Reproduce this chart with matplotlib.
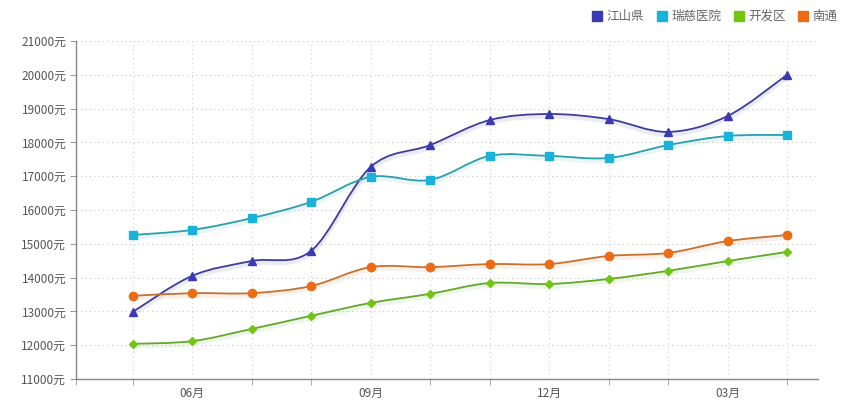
import numpy as np
import matplotlib.pyplot as plt
from matplotlib.path import Path
from matplotlib.patches import PathPatch

plt.rcParams['font.family'] = ['Noto Sans CJK SC', 'DejaVu Sans']

months = ['05月', '06月', '07月', '08月', '09月', '10月', '11月', '12月', '01月', '02月', '03月', '04月']
label_idx = [1, 4, 7, 10]

jiangshan = [12980, 14050, 14490, 14790, 17270, 17920, 18660, 18840, 18690, 18310, 18780, 20000]
ruici = [15260, 15410, 15760, 16240, 16980, 16890, 17600, 17600, 17540, 17920, 18190, 18220]
kaifa = [12040, 12120, 12480, 12870, 13250, 13520, 13840, 13810, 13960, 14200, 14490, 14760]
nantong = [13460, 13540, 13540, 13750, 14310, 14310, 14400, 14400, 14640, 14730, 15080, 15260]

series = [
    ('江山県', jiangshan, '#3a3ab4', '#3d3d9c', '^'),
    ('瑞慈医院', ruici, '#19b2d8', '#2a9fae', 's'),
    ('开发区', kaifa, '#72c612', '#62a82a', 'D'),
    ('南通', nantong, '#ec6b14', '#c8702f', 'o'),
]


def smooth_path(x, y, k=1 / 6):
    # bezier segments through the points (catmull-rom style)
    x = np.asarray(x, float)
    y = np.asarray(y, float)
    n = len(x)
    verts = [(x[0], y[0])]
    codes = [Path.MOVETO]
    for i in range(n - 1):
        p0 = i - 1 if i > 0 else i
        p3 = i + 2 if i + 2 < n else i + 1
        c1 = (x[i] + (x[i + 1] - x[p0]) * k, y[i] + (y[i + 1] - y[p0]) * k)
        c2 = (x[i + 1] - (x[p3] - x[i]) * k, y[i + 1] - (y[p3] - y[i]) * k)
        verts += [c1, c2, (x[i + 1], y[i + 1])]
        codes += [Path.CURVE4] * 3
    return Path(verts, codes)


fig = plt.figure(figsize=(8.61, 4.09), dpi=100)
ax = fig.add_axes([76 / 861, 1 - 379 / 409, (818 - 76) / 861, (379 - 41) / 409])

xs = np.arange(len(months))
for name, vals, mc, lc, mk in series:
    shadow = np.array(vals) - 70
    ax.add_patch(PathPatch(smooth_path(xs, shadow), fill=False, edgecolor=lc, alpha=0.1, lw=3.5, zorder=2))
    ax.add_patch(PathPatch(smooth_path(xs, vals), fill=False, edgecolor=lc, lw=1.3, zorder=3))
    ms = 6 if mk in ('s', 'o') else 5.5
    if mk == 'D':
        ms = 4.5
    ax.plot(xs, vals, linestyle='none', marker=mk, color=mc, markersize=ms, zorder=4)

ax.set_xlim(-0.95, 11.52)
ax.set_ylim(11000, 21000)
ax.set_yticks(np.arange(11000, 21001, 1000))
ax.set_yticklabels([f'{v}元' for v in range(11000, 21001, 1000)])
ax.set_xticks(label_idx)
ax.set_xticklabels([months[i] for i in label_idx])
ax.set_xticks([-0.95] + [i for i in xs if i not in label_idx], minor=True)
ax.tick_params(axis='x', which='major', length=0, pad=6, labelsize=8.5, labelcolor='#555555')
ax.tick_params(axis='x', which='minor', length=4, color='#999999')
ax.tick_params(axis='y', length=4, color='#999999', labelsize=8.5, labelcolor='#555555', pad=3)

for v in range(12000, 21001, 1000):
    ax.axhline(v, color='#c8c8c8', lw=0.8, linestyle=(0, (1, 3)), zorder=1)
for i in xs:
    ax.axvline(i, color='#d0d0d0', lw=0.8, linestyle=(0, (1, 3)), zorder=1)

for s in ['top', 'right']:
    ax.spines[s].set_visible(False)
for s in ['left', 'bottom']:
    ax.spines[s].set_color('#888888')
    ax.spines[s].set_linewidth(1)

handles = [plt.Line2D([], [], linestyle='none', marker='s', color=mc, markersize=7) for _, _, mc, _, _ in series]
fig.legend(handles, [s[0] for s in series], loc='upper right', bbox_to_anchor=(0.982, 0.995), ncol=4,
           frameon=False, fontsize=9, labelcolor='#666666', handlelength=0.8, handletextpad=0.35,
           columnspacing=1.0, borderaxespad=0.25)

fig.savefig('out.png', dpi=100)
